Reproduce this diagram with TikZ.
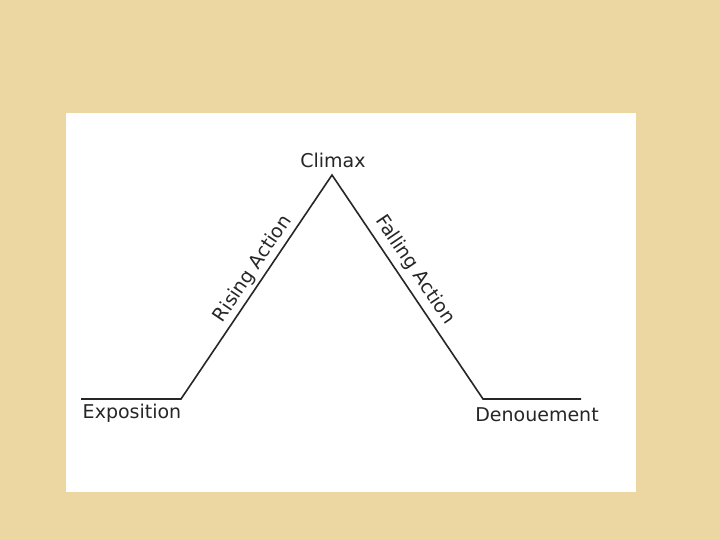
\documentclass[tikz,border=0pt]{standalone}
\usepackage{fontspec}
\setmainfont{DejaVu Sans}
\usepackage{xcolor}
\usepackage{tikz}
\usetikzlibrary{positioning, calc}
\definecolor{paper}{RGB}{236,215,163}
\definecolor{inkgrey}{RGB}{38,38,38}
\tikzset{
  plotline/.style={line width=1.6pt, color=inkgrey, line join=miter},
  stagelabel/.style={font=\fontsize{19}{21}\selectfont, text=inkgrey, inner sep=1pt},
  slopelabel/.style={font=\fontsize{19}{21}\selectfont, text=inkgrey, inner sep=1pt}
}

\begin{document}
\begin{tikzpicture}[x=1pt, y=1pt]
  % Background and card
  \fill[paper] (0,0) rectangle (720,540);
  \useasboundingbox (0,0) rectangle (720,540);
  \fill[white] (66,48) rectangle (636,427);

  % Plot points
  \coordinate (expoL) at (81,141);
  \coordinate (expoR) at (181,141);
  \coordinate (peak) at (332,365);
  \coordinate (denoL) at (483,141);
  \coordinate (denoR) at (581,141);

  % Plot line
  \draw[plotline] (expoL) -- (expoR) -- (peak) -- (denoL) -- (denoR);

  % Labels
  \node[stagelabel] (climax) at (333,380) {Climax};
  \node[stagelabel] (expo) at (132,127) {Exposition};
  \node[stagelabel] (deno) at (537,125) {Denouement};
  \node[slopelabel, rotate=56] (rising) at (253,271) {Rising Action};
  \node[slopelabel, rotate=-56] (falling) at (415,270) {Falling Action};

\end{tikzpicture}
\end{document}
